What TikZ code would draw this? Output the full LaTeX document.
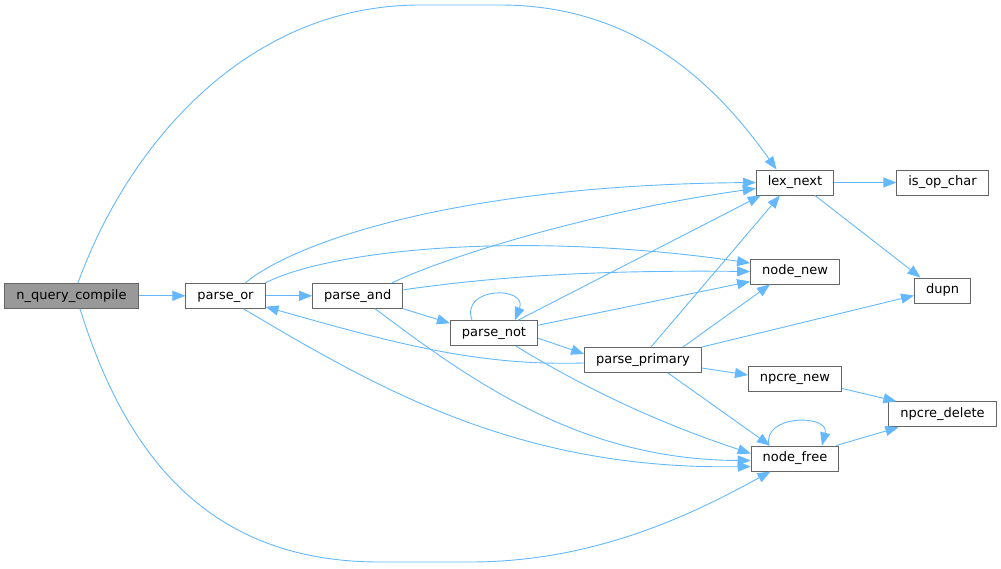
\documentclass[tikz,border=0pt]{standalone}
\usepackage{fontspec}
\setmainfont{DejaVu Sans}
\usetikzlibrary{arrows.meta}
\definecolor{edgeblue}{HTML}{63B8FF}
\definecolor{boxgray}{HTML}{666666}
\definecolor{rootgray}{HTML}{999999}

\begin{document}
\begin{tikzpicture}[
  x=1pt, y=-1pt,
  fn/.style={rectangle, draw=boxgray, fill=white, line width=1pt,
             minimum height=25pt, inner xsep=11.5pt, inner ysep=0pt,
             text height=9.5pt, text depth=3pt, font=\fontsize{13}{15}\selectfont},
  root/.style={fn, fill=rootgray},
  call/.style={-{Triangle[length=13pt,width=10pt]}, draw=edgeblue, line width=0.9pt}
]
\useasboundingbox (0,0) rectangle (1001,568);

\node[root] (querycompile) at (71.5,295.8) {n\_query\_compile};
\node[fn] (parseor) at (225.5,295.8) {parse\_or};
\node[fn] (parseand) at (357.7,295.8) {parse\_and};
\node[fn] (parsenot) at (494,333.2) {parse\_not};
\node[fn] (parseprimary) at (643,360) {parse\_primary};
\node[fn] (lexnext) at (795,182.5) {lex\_next};
\node[fn] (isopchar) at (942.5,182.5) {is\_op\_char};
\node[fn] (nodenew) at (795,271.5) {node\_new};
\node[fn] (dupn) at (942.5,290.5) {dupn};
\node[fn] (npcrenew) at (795,378.5) {npcre\_new};
\node[fn] (npcredelete) at (942.5,414.3) {npcre\_delete};
\node[fn] (nodefree) at (795,458.5) {node\_free};

% n_query_compile
\draw[call] (querycompile) -- (parseor);
\draw[call] ([xshift=6.5pt]querycompile.north) .. controls (130,140) and (250,5) .. (420,5)
  -- (500,5) .. controls (640,5) and (720,90) .. ([xshift=-18.5pt]lexnext.north);
\draw[call] ([xshift=8.5pt]querycompile.south) .. controls (130,470) and (220,562) .. (380,562)
  -- (470,562) .. controls (600,562) and (700,510) .. ([xshift=-24.5pt]nodefree.south);

% parse_or
\draw[call] ([xshift=20pt]parseor.north) .. controls (290,245) and (450,185) .. (lexnext.west);
\draw[call] (parseor.north east) .. controls (330,250) and (520,230) .. ([yshift=8.5pt]nodenew.west);
\draw[call] (parseor) -- (parseand);
\draw[call] ([xshift=18pt]parseor.south) .. controls (380,390) and (520,470) .. ([yshift=-8pt]nodefree.west);

% parse_and
\draw[call] ([xshift=34.5pt]parseand.north) .. controls (450,255) and (600,210) .. ([yshift=-6pt]lexnext.west);
\draw[call] ([yshift=6pt]parseand.east) .. controls (500,276) and (600,270) .. (nodenew.west);
\draw[call] (parseand.south east) -- ([yshift=10pt]parsenot.west);
\draw[call] ([xshift=17.5pt]parseand.south) .. controls (470,380) and (580,460) .. ([yshift=-2pt]nodefree.west);

% parse_not
\draw[call] ([xshift=-22pt]parsenot.north) .. controls (460,286) and (528,286) .. ([xshift=21pt]parsenot.north);
\draw[call] ([xshift=24pt]parsenot.north) -- ([xshift=5pt]lexnext.south west);
\draw[call] ([yshift=8pt]parsenot.east) -- ([yshift=-10pt]nodenew.west);
\draw[call] ([yshift=-5pt]parsenot.east) -- ([yshift=6pt]parseprimary.west);
\draw[call] ([xshift=22pt]parsenot.south) .. controls (580,385) and (650,420) .. ([yshift=5pt]nodefree.west);

% parse_primary
\draw[call] ([yshift=-3pt]parseprimary.west) .. controls (480,366) and (400,345) .. ([yshift=2pt]parseor.south east);
\draw[call] ([xshift=8pt]parseprimary.north) -- ([xshift=-15pt]lexnext.south);
\draw[call] ([xshift=40pt]parseprimary.north) -- ([xshift=-25pt]nodenew.south);
\draw[call] (parseprimary.north east) -- ([yshift=-5pt]dupn.west);
\draw[call] ([yshift=-8pt]parseprimary.east) -- ([yshift=3.5pt]npcrenew.west);
\draw[call] ([xshift=25pt]parseprimary.south) -- ([xshift=-25pt]nodefree.north);

% leaves
\draw[call] (lexnext) -- (isopchar);
\draw[call] ([xshift=20pt]lexnext.south) -- ([xshift=-22pt]dupn.north);
\draw[call] ([yshift=-10pt]npcrenew.east) -- ([xshift=8pt]npcredelete.north west);
\draw[call] ([xshift=-3pt]nodefree.north east) -- ([xshift=10pt]npcredelete.south west);
\draw[call] ([xshift=-26pt]nodefree.north) .. controls (762,414) and (830,414) .. ([xshift=27pt]nodefree.north);
\end{tikzpicture}
\end{document}
